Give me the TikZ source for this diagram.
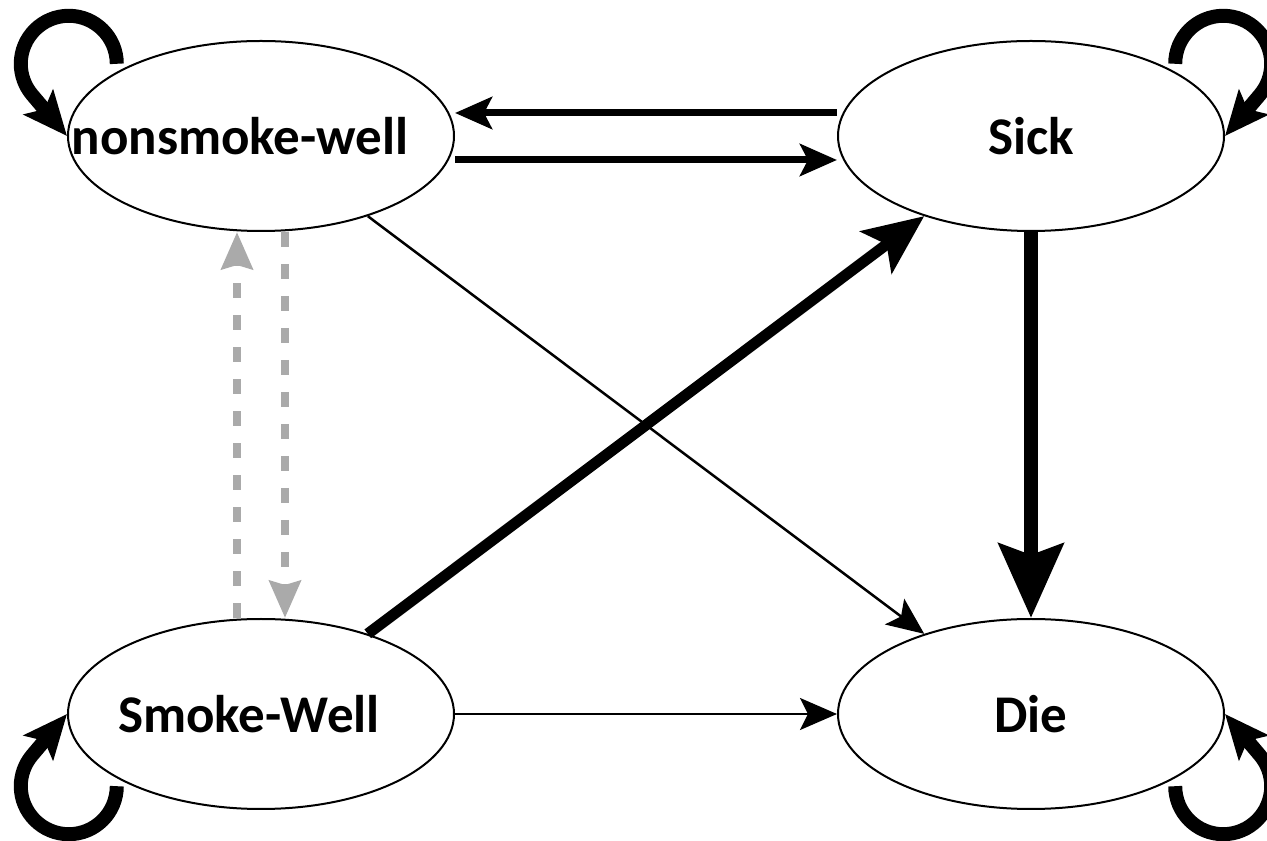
\documentclass[tikz,border=0pt]{standalone}
\usepackage{fontspec}
\setmainfont{Carlito}
\usetikzlibrary{arrows.meta,shapes.geometric}
\definecolor{dashgray}{RGB}{170,170,170}

\begin{document}
\begin{tikzpicture}[x=1pt,y=1pt,
	state/.style={draw,ellipse,line width=2pt,minimum width=386pt,minimum height=190pt,inner sep=0pt},
	lbl/.style={font=\fontsize{53}{60}\selectfont\bfseries},
	thinedge/.style={line width=2.5pt,-{Stealth[length=37pt,width=32pt,inset=8pt]}},
	midedge/.style={line width=7pt,-{Stealth[length=37pt,width=32pt,inset=8pt]}},
	boldedge/.style={line width=11pt,-{Stealth[length=60pt,width=52pt,inset=13pt]}},
	heavyedge/.style={line width=14pt,-{Stealth[length=74pt,width=64pt,inset=11pt]}},
	dashedge/.style={dashgray,line width=8pt,dash pattern=on 15pt off 17pt,-{Stealth[length=37pt,width=31pt,inset=4pt]}},
	loopedge/.style={line width=14pt,-{Stealth[length=44pt,width=38pt,inset=9pt]}}]
\useasboundingbox (0,0) rectangle (1267,841);

\node[state] (nw) at (261,705) {};
\node[state] (sick) at (1031,705) {};
\node[state] (sw) at (261,127) {};
\node[state] (die) at (1031,127) {};

\node[lbl] (nwtext) at ([xshift=-21pt]nw.center) {nonsmoke-well};
\node[lbl] (sicktext) at (sick.center) {Sick};
\node[lbl] (swtext) at ([xshift=-12pt]sw.center) {Smoke-Well};
\node[lbl] (dietext) at (die.center) {Die};

\draw[midedge] ([yshift=23pt]sick.west) -- ([yshift=23pt]nw.east);
\draw[midedge] ([yshift=-24pt]nw.east) -- ([yshift=-24pt]sick.west);
\draw[thinedge] (nw) -- (die);
\draw[thinedge] (sw) -- (die);
\draw[boldedge] (sw) -- (sick);
\draw[heavyedge] (sick) -- (die);

\draw[dashedge] ([xshift=-24pt]sw.north) -- ([xshift=-24pt]nw.south);
\draw[dashedge] ([xshift=24pt]nw.south) -- ([xshift=24pt]sw.north);

\foreach \n/\a/\y/\s/\e/\t in {nw/156/8/0/220/180, sick/24/8/180/-40/0, sw/204/-8/0/-220/180, die/-24/-8/180/400/0}{
	\draw[loopedge] ([yshift=\y]\n.\a) arc[start angle=\s,end angle=\e,radius=48] -- (\n.\t);
}

\end{tikzpicture}
\end{document}
